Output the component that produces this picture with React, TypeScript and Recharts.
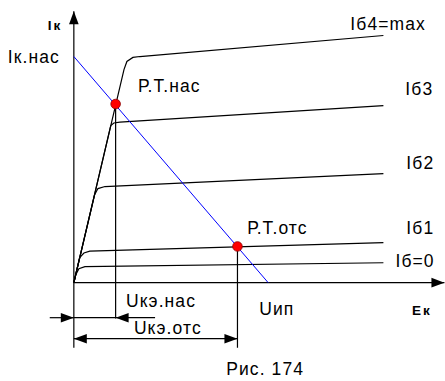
import { ComposedChart, Line, Scatter, XAxis, YAxis, ReferenceLine } from "recharts";

// Ek (x) and Ik (y) in arbitrary units: Uип = 10, Iк.нас = 10
const ib0 = [[0, 0], [0.1, 0.35], [0.26, 0.62], [0.57, 0.71], [15.93, 0.88]];
const ib1 = [[0, 0], [0.3, 1.11], [0.52, 1.31], [0.82, 1.39], [15.93, 1.77]];
const ib2 = [[0, 0], [1.07, 3.89], [1.24, 4.16], [1.6, 4.25], [15.93, 4.82]];
const ib3 = [[0, 0], [1.9, 6.95], [2.06, 7.06], [2.37, 7.1], [15.93, 7.83]];
const ib4 = [[0, 0], [2.58, 9.42], [2.73, 9.78], [3.04, 9.96], [3.4, 10.0], [15.93, 10.93]];
const loadLine = [[0, 10], [10, 0]];

const workPoints = [[2.15, 7.9], [8.42, 1.6]];

// [x1, y1, x2, y2, arrow]
const guides: [number, number, number, number, string][] = [
  [0, -2.88, 0, 12.0, "end"],
  [0, 0, 19.07, 0, "end"],
  [2.15, 7.9, 2.15, -1.59, "none"],
  [8.42, 1.6, 8.42, -2.88, "none"],
  [-1.24, -1.55, 0, -1.55, "end"],
  [0, -1.55, 2.15, -1.55, "none"],
  [4.18, -1.55, 2.15, -1.55, "end"],
  [0, -2.48, 8.42, -2.48, "both"],
];

// [x, y, text, bold]
const labels: [number, number, string, boolean][] = [
  [-1.34, 11.19, "Iк", true],
  [-3.4, 9.73, "Iк.нас", false],
  [3.3, 8.41, "Р.Т.нас", false],
  [14.23, 11.19, "Iб4=max", false],
  [17.06, 8.32, "Iб3", false],
  [17.11, 5.04, "Iб2", false],
  [8.92, 2.17, "Р.Т.отс", false],
  [17.11, 2.17, "Iб1", false],
  [16.55, 0.71, "Iб=0", false],
  [2.68, -1.06, "Uкэ.нас", false],
  [9.54, -1.42, "Uип", false],
  [17.4, -1.42, "Ек", true],
  [3.09, -2.26, "Uкэ.отс", false],
  [7.84, -4.07, "Рис. 174", false],
];

const toPts = (arr: number[][]) => arr.map(([x, y]) => ({ x, y }));
const curves = [ib0, ib1, ib2, ib3, ib4];

function arrowHead(xt: number, yt: number, xf: number, yf: number) {
  const dx = xt - xf;
  const dy = yt - yf;
  const len = Math.hypot(dx, dy) || 1;
  const ux = dx / len;
  const uy = dy / len;
  const L = 13;
  const w = 4.8;
  const bx = xt - ux * L;
  const by = yt - uy * L;
  return `${xt},${yt} ${bx - uy * w},${by + ux * w} ${bx + uy * w},${by - ux * w}`;
}

function Guide(p: any) {
  const { x1, y1, x2, y2, mode } = p;
  return (
    <g>
      <line x1={x1} y1={y1} x2={x2} y2={y2} stroke="#000" strokeWidth={1.2} />
      {(mode === "end" || mode === "both") && <polygon points={arrowHead(x2, y2, x1, y1)} fill="#000" />}
      {mode === "both" && <polygon points={arrowHead(x1, y1, x2, y2)} fill="#000" />}
    </g>
  );
}

function TextMark(p: any) {
  const { cx, cy, payload } = p;
  return (
    <text
      x={cx}
      y={cy}
      fontFamily="Liberation Sans, Arial, sans-serif"
      fontSize={payload.bold ? 13.5 : 17.5}
      fontWeight={payload.bold ? "bold" : "normal"}
      letterSpacing={payload.bold ? 2 : 1.1}
      fill="#000"
    >
      {payload.text}
    </text>
  );
}

export default function App() {
  const labelData = labels.map(([x, y, text, bold]) => ({ x, y, text, bold }));
  return (
    <div style={{ position: "absolute", left: 0, top: 0, background: "#fff" }}>
      <ComposedChart width={445} height={381} margin={{ top: 0, right: 0, bottom: 0, left: 0 }}>
        <XAxis type="number" dataKey="x" domain={[-3.8, 19.1]} hide allowDataOverflow />
        <YAxis type="number" dataKey="y" domain={[-4.35, 12.5]} hide allowDataOverflow />
        {guides.map(([x1, y1, x2, y2, mode], i) => (
          <ReferenceLine
            key={i}
            segment={[{ x: x1, y: y1 }, { x: x2, y: y2 }]}
            ifOverflow="visible"
            shape={(p: any) => <Guide {...p} mode={mode} />}
          />
        ))}
        {curves.map((c, i) => (
          <Line
            key={i}
            data={toPts(c)}
            dataKey="y"
            type="linear"
            stroke="#000"
            strokeWidth={1.2}
            dot={false}
            isAnimationActive={false}
          />
        ))}
        <Line
          data={toPts(loadLine)}
          dataKey="y"
          type="linear"
          stroke="#0000ff"
          strokeWidth={1}
          dot={false}
          isAnimationActive={false}
        />
        <Scatter
          data={toPts(workPoints)}
          isAnimationActive={false}
          shape={(p: any) => <circle cx={p.cx} cy={p.cy} r={4.8} fill="#ff0000" stroke="#8b0000" strokeWidth={0.8} />}
        />
        <Scatter data={labelData} isAnimationActive={false} shape={(p: any) => <TextMark {...p} />} />
      </ComposedChart>
    </div>
  );
}
